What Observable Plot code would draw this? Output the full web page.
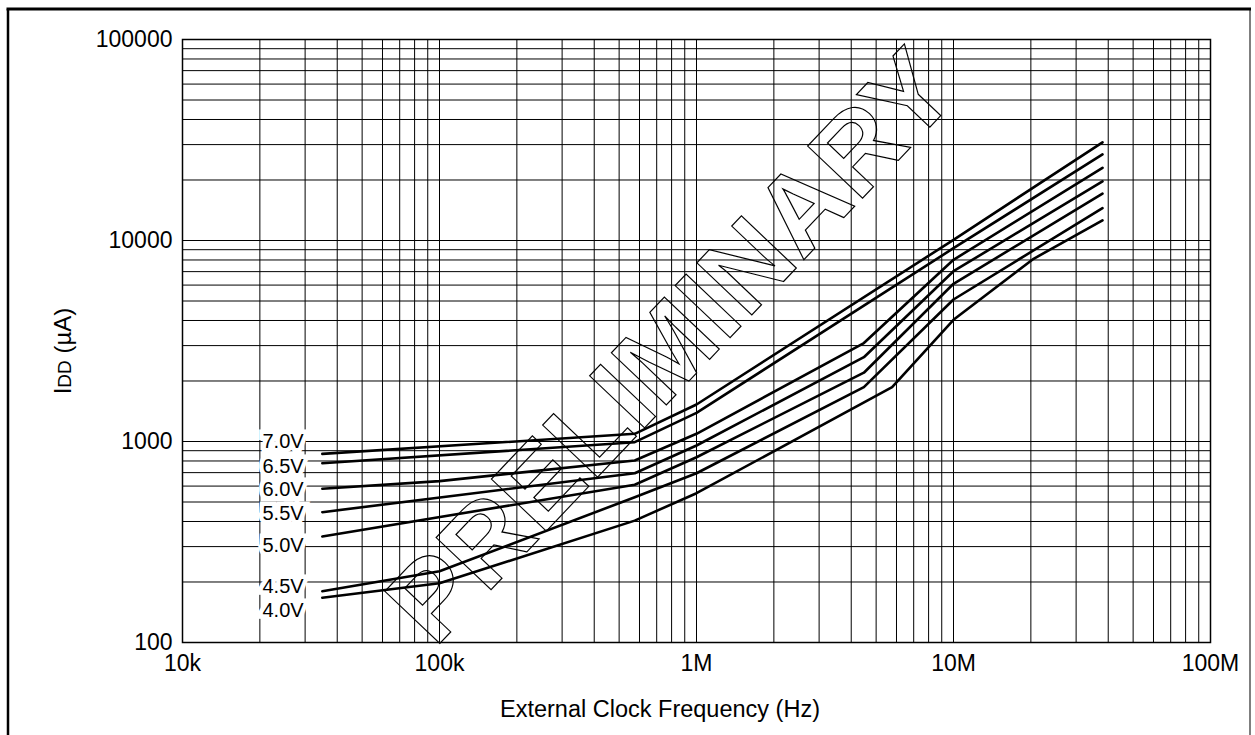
<!DOCTYPE html>
<html><head><meta charset="utf-8">
<script src="https://cdn.jsdelivr.net/npm/d3@7"></script>
<script src="https://cdn.jsdelivr.net/npm/@observablehq/plot@0.6"></script>
<style>html,body{margin:0;padding:0;background:#fff}#chart svg{display:block}</style>
</head><body><div id="chart"></div><script>
// ---- data ----
const seriesNames = ["7.0V", "6.5V", "6.0V", "5.5V", "5.0V", "4.5V", "4.0V"];
const freq70 = [3.5e4, 5.75e5, 1e6, 1e7, 3.8e7];
const idd70  = [868, 1092, 1528, 10080, 30800];
const freq65 = [3.5e4, 5.75e5, 1e6, 1e7, 3.8e7];
const idd65  = [780, 992, 1389, 9155, 26800];
const freq60 = [3.5e4, 1e5, 5.75e5, 1e6, 4.48e6, 1e7, 3.8e7];
const idd60  = [582, 635, 805, 1092, 3090, 8017, 23000];
const freq55 = [3.5e4, 5.75e5, 1e6, 4.48e6, 1e7, 3.8e7];
const idd55  = [445, 695, 955, 2627, 7033, 19700];
const freq50 = [3.5e4, 5.75e5, 1e6, 4.48e6, 1e7, 3.8e7];
const idd50  = [337, 609, 835, 2199, 6091, 17100];
const freq45 = [3.5e4, 1e5, 5.75e5, 1e6, 4.48e6, 1e7, 3.8e7];
const idd45  = [180, 226, 528, 695, 1863, 5088, 14500];
const freq40 = [3.5e4, 1e5, 5.75e5, 1e6, 5.77e6, 1e7, 2.05e7, 3.8e7];
const idd40  = [167, 197, 404, 553, 1863, 4032, 8110, 12600];
const seriesFreq = [freq70, freq65, freq60, freq55, freq50, freq45, freq40];
const seriesIdd  = [idd70, idd65, idd60, idd55, idd50, idd45, idd40];

const labelFreq = [2.96e4, 2.96e4, 2.96e4, 2.96e4, 2.96e4, 2.96e4, 2.96e4];
const labelIdd  = [1000, 751, 577, 438, 304, 190, 144];

const xTicks = [1e4, 1e5, 1e6, 1e7, 1e8];
const xTickLabels = ["10k", "100k", "1M", "10M", "100M"];
const yTicks = [100, 1000, 10000, 100000];
const yTickLabels = ["100", "1000", "10000", "100000"];
const gridMultipliers = [1, 2, 3, 4, 5, 6, 7, 8, 9];
const xDecades = [1e4, 1e5, 1e6, 1e7];
const yDecades = [1e2, 1e3, 1e4];

// ---- tables for the library ----
const points = [];
seriesNames.forEach((name, i) => {
  seriesFreq[i].forEach((f, j) => points.push({v: name, f, idd: seriesIdd[i][j]}));
});
const labels = seriesNames.map((name, i) => ({text: name, f: labelFreq[i], idd: labelIdd[i]}));
const xGrid = xDecades.flatMap(d => gridMultipliers.map(m => m * d)).concat([1e8]);
const yGrid = yDecades.flatMap(d => gridMultipliers.map(m => m * d)).concat([1e5]);

const font = "'Liberation Sans', Arial, Helvetica, sans-serif";

const chart = Plot.plot({
  width: 1255,
  height: 735,
  marginLeft: 182,
  marginRight: 45,
  marginTop: 39,
  marginBottom: 93,
  style: {fontFamily: font, fontSize: "23px", color: "black", background: "white"},
  x: {type: "log", domain: [1e4, 1e8]},
  y: {type: "log", domain: [100, 1e5]},
  marks: [
    Plot.gridX(xGrid, {stroke: "black", strokeOpacity: 1, strokeWidth: 1}),
    Plot.gridY(yGrid, {stroke: "black", strokeOpacity: 1, strokeWidth: 1}),
    Plot.frame({stroke: "black", strokeWidth: 1.5}),
    Plot.axisX(xTicks, {tickSize: 0, tickPadding: 12, label: null, fontSize: 23,
      tickFormat: d => xTickLabels[xTicks.indexOf(d)]}),
    Plot.axisY(yTicks, {tickSize: 0, tickPadding: 10, label: null, fontSize: 23,
      tickFormat: d => yTickLabels[yTicks.indexOf(d)]}),
    Plot.line(points, {x: "f", y: "idd", z: "v", stroke: "black", strokeWidth: 2.6, curve: "linear"}),
    Plot.text(labels, {x: "f", y: "idd", text: "text", textAnchor: "end", fontSize: 20,
      fill: "black", stroke: "white", strokeWidth: 9, paintOrder: "stroke", strokeLinejoin: "miter"})
  ]
});
document.getElementById("chart").append(chart);

const svg = d3.select(chart);
// outer frame of the figure
svg.append("line").attr("x1", 8).attr("x2", 8).attr("y1", 9).attr("y2", 735)
  .attr("stroke", "black").attr("stroke-width", 2.5);
svg.append("line").attr("x1", 1250).attr("x2", 1250).attr("y1", 9).attr("y2", 735)
  .attr("stroke", "#555").attr("stroke-width", 1.5);
svg.append("line").attr("x1", 6.5).attr("x2", 1251).attr("y1", 9).attr("y2", 9)
  .attr("stroke", "black").attr("stroke-width", 3);

// axis titles
svg.append("text").attr("x", 660).attr("y", 717).attr("text-anchor", "middle")
  .attr("font-family", font).attr("font-size", 23.5).attr("fill", "black")
  .text("External Clock Frequency (Hz)");
const yl = svg.append("text").attr("transform", "translate(71,351) rotate(-90)")
  .attr("text-anchor", "middle").attr("font-family", font).attr("font-size", 24).attr("fill", "black");
yl.append("tspan").text("I");
yl.append("tspan").attr("font-size", 19).text("DD");
yl.append("tspan").text(" (\u00B5A)");

// watermark
svg.append("text").attr("transform", "translate(670,345) rotate(-46.5)")
  .attr("text-anchor", "middle").attr("dominant-baseline", "central")
  .attr("font-family", font).attr("font-weight", "bold").attr("font-size", 110)
  .attr("letter-spacing", 1)
  .attr("fill", "none").attr("stroke", "black").attr("stroke-width", 1.2)
  .text("PRELIMINARY");
</script></body></html>
